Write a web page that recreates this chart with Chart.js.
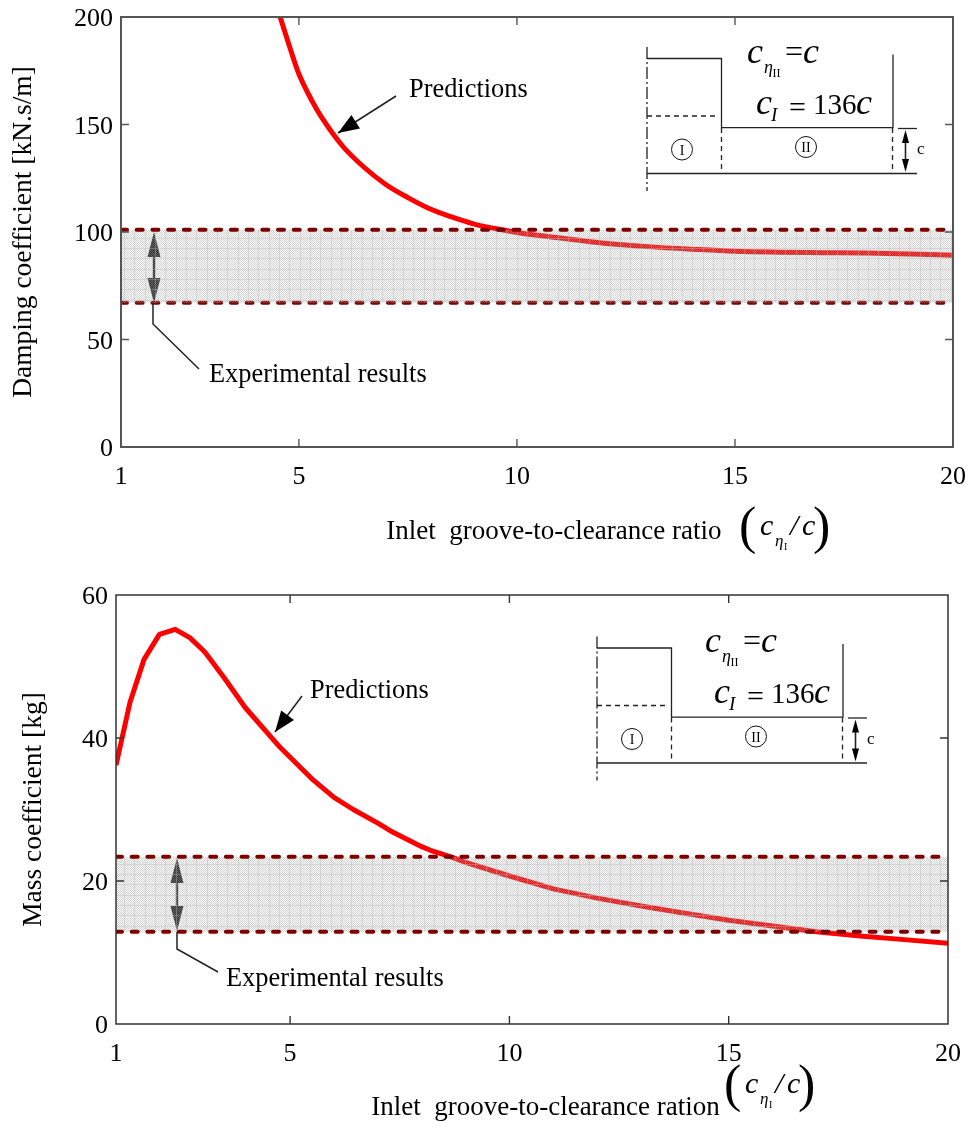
<!DOCTYPE html>
<html><head><meta charset="utf-8">
<script src="https://cdn.jsdelivr.net/npm/chart.js@4"></script>
<style>html,body{margin:0;padding:0;background:#fff}canvas{position:absolute;left:0}</style>
</head><body>
<canvas id="c1" width="975" height="564" style="top:0"></canvas>
<canvas id="c2" width="975" height="564" style="top:564px"></canvas>
<script>
// ---- data ----
const ratioA = [4.57,4.87,5,5.3,5.5,6,6.5,7,7.5,8,8.5,9,9.5,10,11,12,13,14,15,16,17,18,19,20];
const damping = [200,181,173.5,161,154,140,130,122,116,110.8,107,103.8,101.6,99.8,97.2,94.8,93.2,92,91,90.6,90.4,90.2,89.8,89.2];
const ratioB = [1.03,1.35,1.67,2.02,2.38,2.72,3.06,3.5,3.97,4.77,5,5.53,6,6.44,7,7.29,8,8.2,8.7,9,10,11,12,13,14,15,16,17,18,19,20];
const mass = [36.2,45,51,54.5,55.2,54,52,48.4,44.3,38.7,37.3,34.1,31.7,30,28.1,27,24.8,24.3,23.3,22.6,20.7,18.9,17.6,16.5,15.5,14.5,13.7,12.9,12.3,11.8,11.3];
const xMinA = 0.92, xMinB = 1.03, xMax = 20;
const xTickValues = [5,10,15,20];
const firstXLabel = '1';
const dampingTicks = [0,50,100,150,200];
const massTicks = [0,20,40,60];
const dampingBand = [67.1,101];
const massBand = [12.9,23.4];
const titleA = '\u00A0\u00A0\u00A0\u00A0\u00A0Inlet \u00A0groove-to-clearance ratio';
const titleB = '\u00A0\u00A0\u00A0\u00A0Inlet \u00A0groove-to-clearance ration';
const yTitleA = 'Damping coefficient [kN.s/m]';
const yTitleB = 'Mass coefficient [kg]';
const predLabel = 'Predictions';
const expLabel = 'Experimental results';

const SERIF = '"Liberation Serif","Times New Roman",serif';
const BASE = 26;

function hatch(){
  const n=62, c=document.createElement('canvas'); c.width=c.height=n;
  const g=c.getContext('2d');
  for(let y=0;y<n;y++)for(let x=0;x<n;x++){
    g.fillStyle=((x+y)%2===0)?'rgba(165,165,165,.5)':'rgba(215,215,215,.1)';
    g.fillRect(x,y,1,1);
  }
  g.fillStyle='rgba(185,185,185,.38)';
  [0,10,21,31,41,52].forEach(p=>{g.fillRect(0,p,n,1);g.fillRect(p,0,1,n);});
  return document.getElementById('c1').getContext('2d').createPattern(c,'repeat');
}
const pattern=hatch();

function seg(c,pts,dash,w){
  c.save();c.lineWidth=w||1.3;c.strokeStyle='#222';c.setLineDash(dash||[]);
  c.beginPath();pts.forEach((p,i)=>i?c.lineTo(p[0],p[1]):c.moveTo(p[0],p[1]));c.stroke();c.restore();
}
function arrowHead(c,tx,ty,fx,fy,len,hw,color){
  const a=Math.atan2(ty-fy,tx-fx);
  const bx=tx-len*Math.cos(a),by=ty-len*Math.sin(a);
  c.fillStyle=color||'#000';c.beginPath();c.moveTo(tx,ty);
  c.lineTo(bx+hw*Math.sin(a),by-hw*Math.cos(a));
  c.lineTo(bx-hw*Math.sin(a),by+hw*Math.cos(a));c.closePath();c.fill();
}
function txt(c,s,x,y,size,italic,align){
  c.font=(italic?'italic ':'')+size+'px '+SERIF;c.fillStyle='#000';c.textAlign=align||'left';c.textBaseline='alphabetic';
  c.fillText(s,x,y);
}
function circled(c,x,y,r,s){
  c.save();c.lineWidth=1;c.strokeStyle='#111';c.beginPath();c.arc(x,y,r,0,Math.PI*2);c.stroke();c.restore();
  txt(c,s,x,y+5,14,false,'center');
}
function inset(c,o,t){
  const X=v=>v+o[0],Y=v=>v+o[1];
  seg(c,[[X(647),Y(47)],[X(647),Y(191)]],[12,3,2,3]);
  seg(c,[[X(647),Y(58.5)],[X(721.5),Y(58.5)],[X(721.5),Y(127.7)],[X(893),Y(127.7)],[X(893),Y(54.5)]]);
  seg(c,[[X(647),Y(116)],[X(719),Y(116)]],[5,4]);
  seg(c,[[X(721.5),Y(128)],[X(721.5),Y(173)]],[5,4]);
  seg(c,[[X(892.5),Y(128)],[X(892.5),Y(173)]],[5,4]);
  seg(c,[[X(647),Y(173.5)],[X(917),Y(173.5)]]);
  seg(c,[[X(898),Y(128.5)],[X(917),Y(128.5)]]);
  seg(c,[[X(905.5),Y(140)],[X(905.5),Y(162)]],null,1.6);
  arrowHead(c,X(905.5),Y(130),X(905.5),Y(150),13,3.5);
  arrowHead(c,X(905.5),Y(172),X(905.5),Y(150),13,3.5);
  txt(c,'c',X(917),Y(154),17);
  circled(c,X(682),Y(149.5),10.5,'I');
  circled(c,X(806),Y(147),10.5,'II');
  const x=v=>v+t[0],y=v=>v+t[1];
  txt(c,'c',x(747),y(63),36,true);
  txt(c,'\u03B7',x(764),y(73),18,true);
  txt(c,'II',x(772.5),y(77),12);
  txt(c,'=',x(785),y(62),32);
  txt(c,'c',x(803),y(63),36,true);
  txt(c,'c',x(756),y(114),36,true);
  txt(c,'I',x(771),y(121),19,true);
  txt(c,'=',x(789),y(117),30);
  txt(c,'136',x(813),y(114),29);
  txt(c,'c',x(856),y(114),36,true);
}
function mathTitle(c,p){
  const x=v=>v+p[0],y=v=>v+p[1];
  txt(c,'(',x(739),y(543),52);
  txt(c,'c',x(760),y(535),30,true);
  txt(c,'\u03B7',x(775),y(546),17,true);
  txt(c,'I',x(784),y(550),10);
  txt(c,'/',x(790),y(535),30,true);
  txt(c,'c',x(802),y(535),30,true);
  txt(c,')',x(813),y(543),52);
}
function makeChart(id,cfg){
  const furn={
    id:'furniture',
    beforeDraw(ch){
      // reference's value labels sit slightly below their tick marks
      ch.scales.y.getLabelItems().forEach(i=>{
        if(!i._moved){i.options.translation[1]+=2.5;i._moved=true;}
      });
    },
    beforeDatasetsDraw(ch){
      const c=ch.ctx,a=cfg.band;
      c.save();
      seg(c,[[a.x,a.y1+6],[a.x,a.y2-6]],null,2.4);
      arrowHead(c,a.x,a.y1,a.x,a.y1+30,25,6.5,'#222');
      arrowHead(c,a.x,a.y2,a.x,a.y2-30,25,6.5,'#222');
      c.restore();
    },
    afterDraw(ch){
      const c=ch.ctx,{left,right,top,bottom}=ch.chartArea;
      c.save();
      c.strokeStyle=cfg.frame;c.lineWidth=cfg.frameW;
      c.strokeRect(left,top,right-left,bottom-top);
      const sx=ch.scales.x,sy=ch.scales.y;
      c.lineWidth=1.4;c.beginPath();
      xTickValues.slice(0,3).forEach(v=>{const p=sx.getPixelForValue(v);
        c.moveTo(p,bottom);c.lineTo(p,bottom-8);c.moveTo(p,top);c.lineTo(p,top+8);});
      cfg.yTicks.slice(1,-1).forEach(v=>{const p=sy.getPixelForValue(v);
        c.moveTo(left,p);c.lineTo(left+8,p);c.moveTo(right,p);c.lineTo(right-8,p);});
      c.stroke();
      const A=cfg.pred;
      seg(c,[A.from,A.to],null,1.6);
      arrowHead(c,A.to[0],A.to[1],A.from[0],A.from[1],21,8);
      txt(c,predLabel,A.text[0],A.text[1],26.4);
      seg(c,cfg.leader,null,1.5);
      txt(c,expLabel,cfg.expText[0],cfg.expText[1],26.4);
      inset(c,cfg.shape,cfg.textOff);
      mathTitle(c,cfg.math);
      c.restore();
    }
  };
  const curve={label:'Predictions',data:cfg.xs.map((x,i)=>({x,y:cfg.ys[i]})),borderColor:'#ff0000',borderWidth:5,pointRadius:0,fill:false,order:3,borderJoinStyle:'round'};
  if(cfg.smooth) curve.cubicInterpolationMode='monotone'; else curve.tension=0;
  return new Chart(document.getElementById(id),{
    type:'line',
    data:{datasets:[
      curve,
      {label:'Experimental lower',data:[{x:cfg.xMin,y:cfg.bandVals[0]},{x:xMax,y:cfg.bandVals[0]}],borderColor:'#7d0000',borderWidth:4,borderDash:[6,9.7],borderCapStyle:'round',pointRadius:0,fill:false,order:cfg.lowerOrder},
      {label:'Experimental upper',data:[{x:cfg.xMin,y:cfg.bandVals[1]},{x:xMax,y:cfg.bandVals[1]}],borderColor:'#7d0000',borderWidth:4,borderDash:[6,9.7],borderCapStyle:'round',pointRadius:0,fill:1,backgroundColor:pattern,order:1}
    ]},
    options:{
      responsive:false,animation:false,
      layout:{padding:{left:0,right:975-cfg.right,top:cfg.top,bottom:0}},
      plugins:{legend:{display:false},tooltip:{enabled:false}},
      scales:{
        x:{type:'linear',min:cfg.xMin,max:xMax,
          afterFit:s=>{s.height=cfg.xH;s.paddingLeft=0;s.paddingRight=0;s.paddingTop=0;s.paddingBottom=0},
          afterBuildTicks:s=>{s.ticks=[cfg.xMin,...xTickValues].map(value=>({value}))},
          grid:{display:false,drawTicks:false},border:{display:false},
          ticks:{autoSkip:false,maxRotation:0,padding:cfg.xPad,color:'#000',font:{family:SERIF,size:BASE},
            callback:v=>v===cfg.xMin?firstXLabel:String(v)},
          title:{display:true,text:cfg.xTitle,color:'#000',font:{family:SERIF,size:27},padding:{top:0,bottom:cfg.xTitlePad}}
        },
        y:{type:'linear',min:cfg.yTicks[0],max:cfg.yTicks[cfg.yTicks.length-1],
          afterFit:s=>{s.width=cfg.left;s.paddingLeft=0;s.paddingRight=0;s.paddingTop=0;s.paddingBottom=0},
          afterBuildTicks:s=>{s.ticks=cfg.yTicks.map(value=>({value}))},
          grid:{display:false,drawTicks:false},border:{display:false},
          ticks:{padding:8,color:'#000',font:{family:SERIF,size:BASE}},
          title:{display:true,text:cfg.yTitle,color:'#000',font:{family:SERIF,size:27.5},padding:{top:cfg.yTitlePad,bottom:0}}
        }
      }
    },
    plugins:[furn]
  });
}
makeChart('c1',{xs:ratioA,ys:damping,smooth:true,xMin:xMinA,bandVals:dampingBand,yTicks:dampingTicks,left:121,right:953,top:17,xH:117,
  xPad:15,xTitle:titleA,xTitlePad:16,yTitle:yTitleA,yTitlePad:7,frame:'#555',frameW:2,lowerOrder:2,
  band:{x:154,y1:232,y2:303},
  pred:{from:[396,96],to:[338,133],text:[409,97]},
  leader:[[153,303],[153,324],[199,369]],expText:[209,382],
  shape:[0,0],textOff:[0,0],math:[0,0]});
makeChart('c2',{xs:ratioB,ys:mass,smooth:false,xMin:xMinB,bandVals:massBand,yTicks:massTicks,left:116,right:948,top:31,xH:104,
  xPad:15,xTitle:titleB,xTitlePad:4,yTitle:yTitleB,yTitlePad:17.5,frame:'#333',frameW:1.5,lowerOrder:0,
  band:{x:177,y1:294,y2:367},
  pred:{from:[302,132],to:[275,168],text:[310,134]},
  leader:[[177,368],[177,385],[218,408]],expText:[226,422],
  shape:[-50,25.5],textOff:[-42,25],math:[-15,-6]});
</script>
</body></html>
